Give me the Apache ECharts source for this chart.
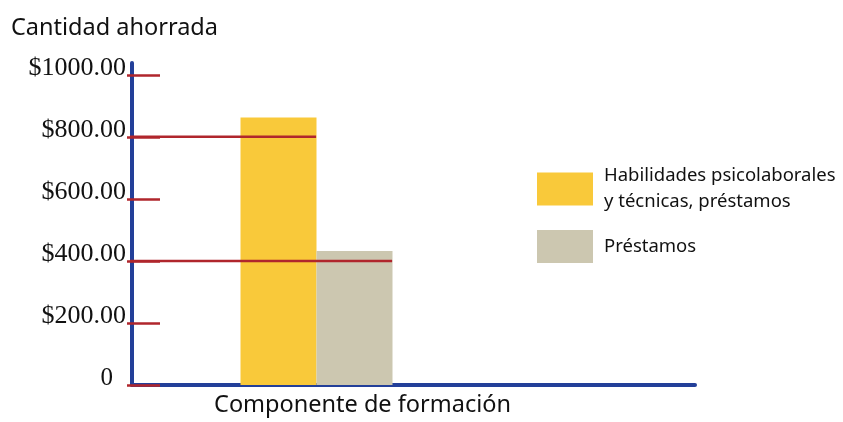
<!DOCTYPE html>
<html>
<head>
<meta charset="utf-8">
<script src="https://cdn.jsdelivr.net/npm/echarts@6/dist/echarts.min.js"></script>
<style>html,body{margin:0;padding:0;background:#fff}#c{width:843px;height:422px}</style>
</head>
<body>
<div id="c"></div>
<script>
const categories = ['Componente de formación'];
const seriesNames = ['Habilidades psicolaborales\ny técnicas, préstamos', 'Préstamos'];
const habilidadesValues = [862];
const prestamosValues = [432];
const tickValues = [0, 200, 400, 600, 800, 1000];
const tickLabels = ['0', '$200.00', '$400.00', '$600.00', '$800.00', '$1000.00'];
// red guide lines: [value, right end as fraction of plot width]
const guideLines = [[800, 0.327], [400, 0.462]];

const RED = '#B0262C', BLUE = '#233F99';
const chart = echarts.init(document.getElementById('c'));
const lineSeries = guideLines.map(g => ({
  type: 'line', xAxisIndex: 1, yAxisIndex: 0, z: 10, symbol: 'none', silent: true,
  lineStyle: { color: RED, width: 2.5 },
  data: [[-0.009, g[0]], [g[1], g[0]]]
}));
chart.setOption({
  animation: false,
  title: {
    text: 'Cantidad ahorrada', left: 6, top: 11,
    textStyle: { fontFamily: 'Noto Sans', fontWeight: 'normal', fontSize: 23.5, color: '#111' }
  },
  legend: {
    orient: 'vertical', left: 532, top: 158, itemWidth: 56, itemHeight: 33, itemGap: 15,
    icon: 'rect', data: seriesNames,
    textStyle: { fontFamily: 'Noto Sans', fontSize: 18.5, color: '#111', lineHeight: 26, padding: [0, 0, 0, 6] }
  },
  grid: { left: 132, right: 148, top: 63, bottom: 33, containLabel: false },
  xAxis: [{
    type: 'category', data: categories,
    axisLine: { lineStyle: { color: BLUE, width: 4 } },
    axisTick: { show: false }, axisLabel: { show: false },
    name: categories[0], nameLocation: 'middle', nameGap: 8,
    nameTextStyle: { fontFamily: 'Noto Sans', fontSize: 23.5, color: '#111', padding: [0, 102, 0, 0] }
  }, {
    type: 'value', min: 0, max: 1, show: false
  }],
  yAxis: [{
    type: 'value', min: 0, max: 1038, position: 'left',
    axisLine: { show: true, lineStyle: { color: BLUE, width: 4 } },
    axisTick: { show: false }, splitLine: { show: false },
    axisLabel: {
      customValues: tickValues, margin: 6,
      fontFamily: 'Liberation Serif', fontSize: 26, color: '#111', padding: [0, 0, 14, 0],
      formatter: v => { const s = tickLabels[tickValues.indexOf(v)]; return v === 0 ? '{z|' + s + '}' : s; },
      rich: { z: { fontFamily: 'Liberation Serif', fontSize: 25, color: '#111', padding: [0, 13, 0, 0] } }
    }
  }, {
    type: 'value', min: 0, max: 1038, position: 'left', offset: 5,
    axisLine: { show: false }, splitLine: { show: false }, axisLabel: { show: false },
    axisTick: { show: true, inside: true, length: 33, customValues: tickValues, lineStyle: { color: RED, width: 2.5 } }
  }],
  series: [{
    name: seriesNames[0], type: 'bar', barWidth: 76, barGap: 0, data: habilidadesValues,
    itemStyle: { color: '#F9C93A' }
  }, {
    name: seriesNames[1], type: 'bar', barWidth: 76, barGap: 0, data: prestamosValues,
    itemStyle: { color: '#CCC7B0' }
  }, {
    name: 'spacer', type: 'bar', barWidth: 194, barGap: 0, data: [0], silent: true,
    itemStyle: { color: 'rgba(0,0,0,0)' }
  }].concat(lineSeries)
});
</script>
</body>
</html>
